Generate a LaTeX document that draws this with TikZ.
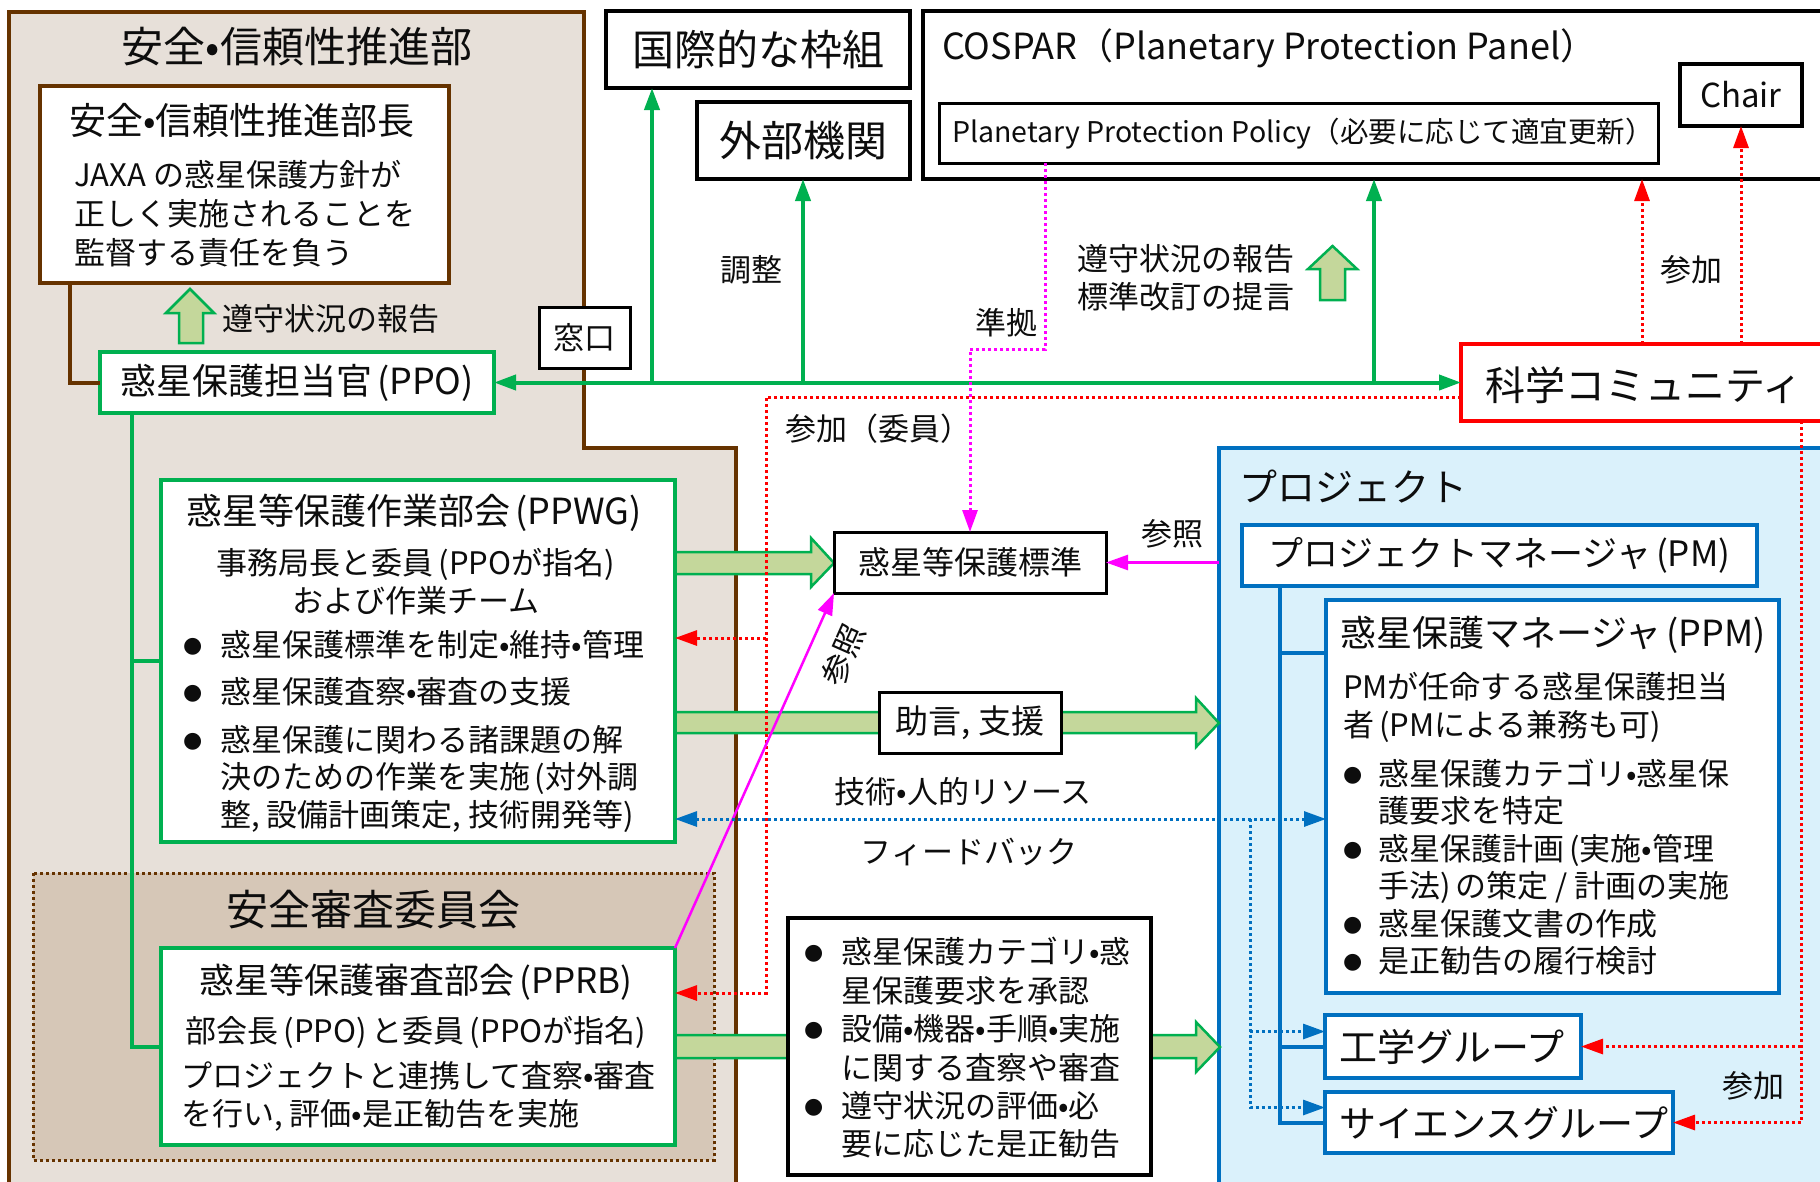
\documentclass[tikz,border=0pt]{standalone}
\usepackage{fontspec}
\setmainfont{Noto Sans CJK JP}
\newfontfamily\dvsfont{DejaVu Sans}
\usetikzlibrary{arrows.meta}
\definecolor{brn}{HTML}{663300}
\definecolor{bgA}{HTML}{E7E0D9}
\definecolor{bgB}{HTML}{D6C7B7}
\definecolor{grn}{HTML}{00B050}
\definecolor{lgrn}{HTML}{C4D79B}
\definecolor{blu}{HTML}{0070C0}
\definecolor{lblu}{HTML}{DAF1FB}
\definecolor{mag}{HTML}{FF00FF}
\definecolor{rd}{HTML}{FF0000}
\definecolor{txt}{HTML}{0D0D0D}
\newcommand\fsz[2]{\fontsize{#1pt}{#2pt}\selectfont}
\newcommand\bul[1]{\makebox[#1][l]{\raisebox{4pt}{\dvsfont\fontsize{22pt}{22pt}\selectfont ●}}}
\newcommand\ind[1]{\makebox[#1]{}}
\newcommand\lpar{\hspace{5pt}(}
\newcommand\rpar{)\hspace{5pt}}
\begin{document}
\begin{tikzpicture}[x=1pt,y=-1pt,
 >={Triangle[length=22pt,width=15pt]},
 every node/.style={inner sep=0pt,outer sep=0pt,text=txt},
 bx/.style={draw=black,line width=3.5pt,fill=white,anchor=north west},
 brnbox/.style={bx,draw=brn},
 grnbox/.style={bx,draw=grn},
 blubox/.style={bx,draw=blu},
 redbox/.style={bx,draw=rd},
 gline/.style={draw=grn,line width=4pt},
 bline/.style={draw=blu,line width=4pt},
 brnline/.style={draw=brn,line width=4pt},
 mline/.style={draw=mag,line width=2.5pt},
 dotline/.style={line width=3pt,dash pattern=on 3pt off 3pt},
 rdot/.style={dotline,draw=rd},
 mdot/.style={dotline,draw=mag},
 bdot/.style={dotline,draw=blu},
 blk/.style={draw=grn,line width=2.5pt,fill=lgrn,line join=miter},
 fXL/.style={font=\fsz{42}{50}},
 fL/.style={font=\fsz{36}{44}},
 fM/.style={font=\fsz{31}{38}},
]
\useasboundingbox (0,0) rectangle (1820,1181);
\fill[white] (0,0) rectangle (1820,1181);
\clip (0,0) rectangle (1820,1181);

% ---------- regions ----------
\path[draw=brn,line width=3.5pt,fill=bgA] (9,12) -- (584,12) -- (584,448) -- (736,448) -- (736,1200) -- (9,1200) -- cycle;
\node[fXL] (tSRD) at (297,47) {安全•信頼性推進部};
\path[draw=brn,line width=3pt,dash pattern=on 3pt off 3pt,fill=bgB] (33,873) rectangle (714,1160);
\node[fXL] (tSRB) at (373,910) {安全審査委員会};
\node[draw=blu,line width=3.5pt,fill=lblu,anchor=north west,minimum width=640pt,minimum height=780pt] (proj) at (1219,448) {};
\node[font=\fsz{38}{46},anchor=west] (tproj) at (1239,487) {プロジェクト};

% ---------- block arrows ----------
\path[blk] (675,552) -- (811,552) -- (811,538) -- (834,563) -- (811,587) -- (811,574) -- (675,574) -- cycle;
\path[blk] (675,712) -- (1196,712) -- (1196,698) -- (1219,723) -- (1196,747) -- (1196,733) -- (675,733) -- cycle;
\path[blk] (675,1035) -- (1196,1035) -- (1196,1022) -- (1220,1047) -- (1196,1072) -- (1196,1058) -- (675,1058) -- cycle;
\path[blk] (179,343) -- (179,313) -- (166,313) -- (190,289) -- (214,313) -- (203,313) -- (203,343) -- cycle;
\path[blk] (1320,300) -- (1320,269) -- (1308,269) -- (1332.5,246) -- (1357,269) -- (1345,269) -- (1345,300) -- cycle;

% ---------- boxes ----------
\node[brnbox,minimum width=409pt,minimum height=197pt] (bucho) at (40,86) {};
\node[grnbox,fL,minimum width=394pt,minimum height=61pt] (ppo) at (100,352) {惑星保護担当官\lpar PPO)};
\node[bx,fXL,line width=4pt,minimum width=304pt,minimum height=77pt] (kokusai) at (606,11) {国際的な枠組};
\node[bx,fXL,line width=4pt,minimum width=213pt,minimum height=77pt] (gaibu) at (697,102) {外部機関};
\node[bx,line width=4pt,minimum width=917pt,minimum height=168pt] (cospar) at (923,11) {};
\node[bx,line width=3pt,minimum width=719pt,minimum height=60pt] (policy) at (939,103) {};
\node[bx,font=\fsz{33}{40},minimum width=122pt,minimum height=62pt] (chair) at (1680,64) {Chair};
\node[bx,fM,line width=3pt,minimum width=91pt,minimum height=61pt] (mado) at (539,307) {窓口};
\node[redbox,minimum width=379pt,minimum height=77pt] (kagaku) at (1461,344) {};
\node[grnbox,minimum width=514pt,minimum height=362pt] (ppwg) at (161,480) {};
\node[bx,font=\fsz{32}{38},line width=3pt,minimum width=272pt,minimum height=61pt] (std) at (834,532) {惑星等保護標準};
\node[bx,font=\fsz{33}{38},line width=3pt,minimum width=182pt,minimum height=61pt] (jogen) at (879,692) {助言, 支援};
\node[grnbox,minimum width=514pt,minimum height=197pt] (pprb) at (161,948) {};
\node[bx,minimum width=363pt,minimum height=257pt] (lbox) at (788,918) {};
\node[blubox,font=\fsz{35}{42},minimum width=515pt,minimum height=61pt] (pm) at (1242,525) {プロジェクトマネージャ\lpar PM)};
\node[blubox,minimum width=453pt,minimum height=393pt] (ppm) at (1326,600) {};
\node[blubox,minimum width=256pt,minimum height=63pt] (kogaku) at (1325,1015) {};
\node[blubox,minimum width=348pt,minimum height=61pt] (science) at (1325,1092) {};

% ---------- connectors ----------
\draw[brnline] ([xshift=30pt]bucho.south west) |- (ppo.west);
\coordinate (gl) at (132,413);
\draw[gline] (ppo.south -| gl) |- (pprb.west);
\draw[gline] (gl |- ppwg.west) -- (ppwg.west);
\draw[gline,<->] (ppo.east) -- (kagaku.west);
\coordinate (ga) at (652,382.5);
\coordinate (gb) at (803,382.5);
\coordinate (gc) at (1374,382.5);
\draw[gline,->] (ga) -- (ga |- kokusai.south);
\draw[gline,->] (gb) -- (gb |- gaibu.south);
\draw[gline,->] (gc) -- (gc |- cospar.south);
\coordinate (rc) at (1642,344);
\draw[rdot,->] (rc) -- (rc |- cospar.south);
\draw[rdot,->] (kagaku.north -| chair.south) -- (chair.south);
\coordinate (r1) at (766,397);
\coordinate (r2) at (766,993);
\coordinate (r3) at (766,638);
\draw[rdot,->] (kagaku.west |- r1) -- (r1) -- (r2) -- (pprb.east |- r2);
\draw[rdot,->] (r3) -- (ppwg.east |- r3);
\coordinate (r4) at (1801,421);
\draw[rdot,->] (r4) |- (science.east);
\draw[rdot,->] (r4 |- kogaku.east) -- (kogaku.east);
\coordinate (m1) at (1045,349);
\draw[mdot,->] (policy.south -| m1) -- (m1) -| (std.north);
\draw[mline,->] (proj.west |- std.east) -- (std.east);
\draw[mline,->] (pprb.north east) -- (std.south west);
\coordinate (b1) at (676,819);
\coordinate (b2) at (1250,819);
\coordinate (kgin) at ([yshift=15pt]kogaku.west);
\coordinate (scin) at ([yshift=15pt]science.west);
\draw[bdot,<->] (ppwg.east |- b1) -- (ppm.west |- b1);
\draw[bdot,->] (b2) |- (scin);
\draw[bdot,->] (b2 |- kgin) -- (kgin);
\coordinate (p1) at (1280,586);
\coordinate (ppmb) at (1326,653);
\draw[bline] (pm.south -| p1) |- (science.west);
\draw[bline] (p1 |- kogaku.west) -- (kogaku.west);
\draw[bline] (p1 |- ppmb) -- (ppmb);

% ---------- texts ----------
\node[font=\fsz{37}{44},anchor=west] (tbucho) at (69,120) {安全•信頼性推進部長};
\node[font=\fsz{31}{39},align=left,anchor=west] (tbucho2) at (74,214) {JAXA の惑星保護方針が\\正しく実施されることを\\監督する責任を負う};
\node[fM,anchor=west] (trep1) at (222,319) {遵守状況の報告};
\node[font=\fsz{36}{44},anchor=west] (tcospar) at (942,48) {COSPAR（Planetary Protection Panel）};
\node[font=\fsz{28.5}{34},anchor=west] (tpolicy) at (952,134) {Planetary Protection Policy（必要に応じて適宜更新）};
\node[fM] (tchosei) at (751,270) {調整};
\node[fM] (tjunkyo) at (1006,323) {準拠};
\node[fM,align=left,anchor=west] (trep2) at (1077,278) {遵守状況の報告\\標準改訂の提言};
\node[fM] (tsanka1) at (1691,270) {参加};
\node[font=\fsz{40}{48},anchor=west] (tkagaku) at (1485,385) {科学コミュニティ};
\node[fM,anchor=west] (tsanka2) at (785,429) {参加（委員）};
\node[fM] (tsansho1) at (1172,534) {参照};
\node[fM,rotate=66] (tsansho2) at (843,655) {参照};
\node[fM] (tres) at (963,792) {技術•人的リソース};
\node[fM] (tfb) at (969,852) {フィードバック};
% PPWG
\node[font=\fsz{36}{44}] (tppwg) at (414,513) {惑星等保護作業部会\lpar PPWG)};
\node[fM,align=center] (tppwg2) at (416,582) {事務局長と委員\lpar PPOが指名)\\および作業チーム};
\node[font=\fsz{31}{37.5},align=left,anchor=west] (tppwg3) at (183,731) {\bul{37pt}惑星保護標準を制定•維持•管理\\[10pt]\bul{37pt}惑星保護査察•審査の支援\\[10pt]\bul{37pt}惑星保護に関わる諸課題の解\\\ind{37pt}決のための作業を実施\lpar 対外調\\\ind{37pt}整, 設備計画策定, 技術開発等)};
% PPRB
\node[font=\fsz{35}{42}] (tpprb) at (416,982) {惑星等保護審査部会\lpar PPRB)};
\node[fM] (tpprb2) at (416,1032) {部会長\lpar PPO\rpar と委員\lpar PPOが指名)};
\node[fM,align=left,anchor=west] (tpprb3) at (181,1096) {プロジェクトと連携して査察•審査\\を行い, 評価•是正勧告を実施};
% list box
\node[font=\fsz{31}{38.4},align=left,anchor=west] (tlist) at (804,1048) {\bul{37pt}惑星保護カテゴリ•惑\\\ind{37pt}星保護要求を承認\\\bul{37pt}設備•機器•手順•実施\\\ind{37pt}に関する査察や審査\\\bul{37pt}遵守状況の評価•必\\\ind{37pt}要に応じた是正勧告};
% PPM
\node[font=\fsz{36}{44},anchor=west] (tppm) at (1340,635) {惑星保護マネージャ\lpar PPM)};
\node[font=\fsz{31}{37.5},align=left,anchor=west] (tppm2) at (1343,824) {PMが任命する惑星保護担当\\者\lpar PMによる兼務も可)\\[11.5pt]\bul{35pt}惑星保護カテゴリ•惑星保\\\ind{35pt}護要求を特定\\\bul{35pt}惑星保護計画\lpar 実施•管理\\\ind{35pt}手法\rpar の策定 / 計画の実施\\\bul{35pt}惑星保護文書の作成\\\bul{35pt}是正勧告の履行検討};
\node[font=\fsz{38}{44},anchor=west] (tkogaku) at (1339,1047) {工学グループ};
\node[font=\fsz{37}{44},anchor=west] (tscience) at (1339,1123) {サイエンスグループ};
\node[fM] (tsanka3) at (1753,1086) {参加};
\end{tikzpicture}
\end{document}
